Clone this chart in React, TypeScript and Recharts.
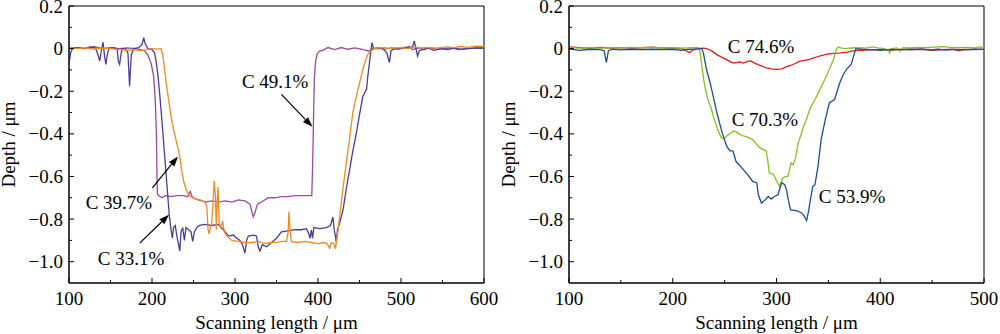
import {
  LineChart,
  Line,
  XAxis,
  YAxis,
  ReferenceArea,
  ReferenceLine,
  ReferenceDot,
  Label,
} from "recharts";

type Pt = [number, number];

const FONT = '"Liberation Serif", "Times New Roman", serif';

const leftXTicks = [100, 150, 200, 250, 300, 350, 400, 450, 500, 550, 600];
const rightXTicks = [100, 150, 200, 250, 300, 350, 400, 450, 500];
const yTicks = [-1.0, -0.9, -0.8, -0.7, -0.6, -0.5, -0.4, -0.3, -0.2, -0.1, 0, 0.1, 0.2];

// left panel
const c491: Pt[] = [
  [100, 0.003], [110, 0.005], [120, 0.0], [130, 0.01], [140, 0.0], [150, 0.005], [160, 0.0],
  [170, 0.003], [180, 0.0], [186, -0.005], [191, -0.01], [195, -0.03], [199, -0.07], [202, -0.13],
  [204, -0.25], [205.3, -0.4], [206, -0.6], [206.5, -0.68], [208, -0.69], [212, -0.7], [216, -0.69],
  [222, -0.695], [230, -0.69], [238, -0.69], [243, -0.695], [246, -0.67], [249, -0.7], [256, -0.71],
  [264, -0.72], [272, -0.715], [280, -0.72], [288, -0.715], [296, -0.72], [304, -0.71], [312, -0.715],
  [318, -0.73], [320, -0.76], [322, -0.79], [324, -0.77], [327, -0.73], [332, -0.72], [340, -0.7],
  [348, -0.7], [356, -0.695], [364, -0.695], [372, -0.69], [380, -0.69], [388, -0.69], [392.5, -0.69],
  [393.5, -0.55], [394.5, -0.35], [395.5, -0.15], [397, -0.06], [399, -0.025], [402, -0.01],
  [406, -0.008], [412, 0.005], [420, -0.005], [428, 0.005], [436, -0.003], [444, 0.003], [452, -0.002],
  [458, -0.008], [462, -0.012], [466, 0.0], [472, 0.005], [480, -0.002], [488, 0.003], [496, 0.0],
  [504, 0.005], [510, 0.01], [514, -0.005], [520, 0.003], [528, -0.004], [536, 0.005], [544, -0.003],
  [552, 0.0], [560, 0.003], [570, -0.005], [580, 0.0], [590, 0.003], [600, 0.002],
];

const c331: Pt[] = [
  [100, -0.07], [102, -0.02], [104, 0.0], [110, 0.005], [118, 0.0], [126, 0.008], [132, 0.003],
  [135, -0.03], [137, -0.058], [139, -0.01], [141, 0.03], [143, -0.04], [144.5, -0.074], [146, -0.03],
  [148, 0.0], [154, 0.005], [158, 0.0], [159.5, -0.06], [161, -0.074], [162.5, -0.03], [164, 0.0],
  [168, 0.0], [171, -0.02], [173, -0.176], [175, -0.03], [178, 0.0], [184, 0.005], [188, 0.02],
  [190, 0.052], [192, 0.02], [195, 0.0], [200, -0.005], [203, -0.02], [205, -0.06], [207, -0.12],
  [209, -0.2], [212, -0.34], [215, -0.49], [218, -0.64], [221, -0.79], [223, -0.85], [224.5, -0.89],
  [226, -0.84], [228, -0.83], [230, -0.88], [232, -0.92], [233.5, -0.95], [235, -0.86], [237, -0.84],
  [239, -0.9], [241, -0.84], [244, -0.85], [247, -0.86], [249, -0.905], [251, -0.86], [254, -0.84],
  [257, -0.83], [264, -0.825], [272, -0.83], [280, -0.825], [286, -0.85], [290, -0.87], [293, -0.88],
  [298, -0.875], [302, -0.89], [306, -0.9], [309, -0.92], [312, -0.96], [314, -0.9], [316, -0.88],
  [322, -0.875], [326, -0.88], [328, -0.93], [330, -0.95], [333, -0.92], [338, -0.93], [344, -0.91],
  [350, -0.89], [356, -0.86], [364, -0.855], [372, -0.85], [380, -0.85], [386, -0.845], [389, -0.87],
  [390.5, -0.89], [392, -0.85], [393.5, -0.89], [395, -0.84], [402, -0.845], [410, -0.84], [415, -0.83],
  [418, -0.79], [419.5, -0.85], [421, -0.88], [422, -0.91], [423.5, -0.85], [426, -0.82], [430, -0.76],
  [434, -0.66], [438, -0.57], [442, -0.48], [446, -0.4], [450, -0.31], [454, -0.225], [456, -0.21],
  [458.5, -0.19], [460, -0.13], [462, -0.066], [464, 0.0], [465, 0.028], [467, 0.0], [472, 0.0],
  [478, 0.0], [483, -0.02], [486, -0.066], [488, -0.01], [492, 0.0], [498, -0.002], [504, 0.005],
  [510, 0.003], [514, 0.01], [516, 0.036], [518, 0.0], [520, -0.035], [522, -0.01], [526, -0.005],
  [532, 0.003], [540, -0.008], [548, 0.0], [556, -0.005], [564, 0.002], [572, -0.002], [580, 0.0],
  [590, 0.002], [600, 0.003],
];

const c397: Pt[] = [
  [100, 0.005], [110, 0.0], [120, 0.003], [130, -0.003], [140, 0.002], [150, 0.0], [160, -0.005],
  [170, -0.008], [178, -0.005], [186, -0.01], [194, -0.005], [200, 0.0], [206, -0.002], [211, 0.0],
  [213, -0.03], [215, -0.09], [217, -0.16], [220, -0.24], [223, -0.32], [226, -0.38], [229, -0.43],
  [232, -0.48], [234, -0.52], [236, -0.58], [238, -0.62], [241, -0.66], [244, -0.685], [247, -0.695],
  [252, -0.705], [258, -0.71], [264, -0.72], [266, -0.74], [267.5, -0.85], [269, -0.87], [270.5, -0.83],
  [272, -0.82], [273.5, -0.72], [275, -0.62], [276.5, -0.7], [277.5, -0.85], [278.5, -0.72],
  [279.5, -0.65], [281, -0.82], [283, -0.84], [285, -0.81], [287, -0.86], [290, -0.88], [296, -0.9],
  [304, -0.905], [312, -0.91], [320, -0.91], [328, -0.905], [336, -0.915], [344, -0.91], [350, -0.91],
  [356, -0.905], [362, -0.905], [364, -0.86], [365, -0.765], [366.5, -0.86], [368, -0.905], [376, -0.91],
  [384, -0.905], [392, -0.91], [400, -0.915], [406, -0.91], [411, -0.915], [414, -0.937], [416, -0.91],
  [419, -0.915], [421, -0.94], [422.5, -0.9], [424, -0.86], [426, -0.79], [430, -0.66], [434, -0.54],
  [438, -0.42], [442, -0.3], [447, -0.21], [452, -0.13], [456, -0.07], [460, -0.027], [464, -0.01],
  [468, 0.0], [474, 0.003], [480, 0.005], [486, 0.0], [492, 0.003], [500, 0.005], [508, 0.0],
  [516, 0.008], [524, 0.003], [532, 0.006], [540, 0.002], [548, 0.005], [556, 0.008], [564, 0.005],
  [572, 0.01], [580, 0.006], [590, 0.012], [600, 0.01],
];

// right panel
const c746: Pt[] = [
  [100, 0.008], [110, 0.005], [120, 0.002], [130, 0.006], [140, 0.003], [150, 0.005], [160, 0.002],
  [170, 0.004], [180, 0.007], [190, 0.003], [200, 0.004], [208, 0.0], [213, -0.01], [216, -0.019],
  [219, -0.008], [224, 0.0], [230, 0.002], [234, -0.002], [238, -0.012], [242, -0.027], [247, -0.04],
  [252, -0.052], [256, -0.063], [259, -0.068], [262, -0.065], [265, -0.062], [268, -0.068], [272, -0.06],
  [275, -0.058], [278, -0.066], [282, -0.075], [286, -0.082], [290, -0.09], [295, -0.095], [300, -0.097],
  [305, -0.095], [310, -0.085], [314, -0.078], [318, -0.07], [322, -0.06], [327, -0.055], [332, -0.05],
  [336, -0.043], [340, -0.037], [345, -0.03], [350, -0.025], [356, -0.022], [362, -0.02], [368, -0.016],
  [374, -0.011], [380, -0.008], [390, -0.006], [400, -0.004], [410, -0.008], [420, -0.002], [430, -0.006],
  [440, -0.003], [450, -0.008], [460, -0.005], [470, -0.002], [476, -0.01], [480, -0.004], [490, -0.005],
  [500, -0.003],
];

const c703: Pt[] = [
  [100, 0.006], [110, 0.002], [120, 0.004], [130, 0.002], [140, 0.005], [150, 0.003], [160, 0.006],
  [170, 0.004], [180, 0.006], [190, 0.003], [200, 0.004], [210, 0.002], [218, 0.004], [225, 0.005],
  [226.5, -0.02], [228, -0.08], [230, -0.15], [231.5, -0.19], [234, -0.24], [237, -0.28], [239, -0.317],
  [242, -0.36], [244, -0.388], [247, -0.42], [250, -0.42], [252, -0.41], [255, -0.4], [258, -0.388],
  [261, -0.39], [264, -0.4], [268, -0.41], [272, -0.415], [277, -0.427], [281, -0.45], [284, -0.466],
  [288, -0.475], [290, -0.48], [291.5, -0.52], [293, -0.584], [297, -0.59], [300, -0.62], [303, -0.647],
  [306, -0.607], [309, -0.6], [311, -0.6], [313, -0.56], [314, -0.537], [316, -0.545], [318, -0.52],
  [320, -0.47], [321, -0.44], [324, -0.4], [326, -0.364], [329, -0.33], [332, -0.286], [337, -0.24],
  [342, -0.19], [346, -0.15], [351, -0.097], [355, -0.05], [358, 0.0], [359.5, 0.008], [362, 0.003],
  [366, 0.0], [372, 0.003], [380, 0.005], [386, 0.002], [392, 0.008], [398, 0.003], [404, 0.0],
  [408, -0.008], [409, -0.02], [411, 0.0], [416, 0.003], [419, -0.012], [422, 0.004], [428, 0.003],
  [436, 0.006], [444, 0.004], [452, 0.007], [460, 0.009], [468, 0.006], [476, 0.004], [484, 0.006],
  [492, 0.003], [496, 0.008], [500, 0.004],
];

const c539: Pt[] = [
  [100, -0.002], [105, -0.005], [110, -0.008], [120, -0.003], [130, -0.005], [134, -0.01], [136, -0.066],
  [138, -0.01], [142, -0.003], [150, -0.006], [160, -0.003], [170, -0.005], [180, -0.003], [190, -0.005],
  [200, -0.003], [208, -0.008], [215, -0.004], [222, -0.002], [228, 0.0], [229.5, -0.02], [232.5, -0.097],
  [236, -0.16], [239, -0.223], [242, -0.29], [245, -0.348], [248, -0.4], [252, -0.458], [255, -0.48],
  [258, -0.48], [261, -0.53], [264, -0.545], [268, -0.568], [272, -0.59], [277, -0.623], [281, -0.63],
  [282.5, -0.686], [285.5, -0.725], [289, -0.71], [292, -0.694], [295, -0.706], [298, -0.694],
  [301.5, -0.686], [303, -0.66], [305, -0.63], [308, -0.639], [310, -0.67], [311, -0.7], [313.5, -0.757],
  [319, -0.76], [324, -0.77], [327, -0.788], [329, -0.807], [331, -0.76], [333, -0.7], [335, -0.647],
  [337, -0.64], [340, -0.553], [343, -0.427], [347, -0.333], [351, -0.254], [356, -0.239], [361, -0.16],
  [364, -0.125], [367.5, -0.097], [372, -0.074], [374, -0.04], [376.5, 0.0], [382, -0.003], [390, -0.005],
  [400, -0.008], [410, -0.004], [420, -0.006], [430, -0.003], [440, -0.002], [448, -0.006], [456, -0.003],
  [464, -0.007], [472, -0.004], [480, -0.006], [490, -0.003], [500, -0.004],
];

const toPts = (a: Pt[]) => a.map(([x, y]) => ({ x, y }));

function fmtY(v: number) {
  if (Math.abs(v) < 1e-9) return "0";
  return v < 0 ? "\u2212" + Math.abs(v).toFixed(1) : v.toFixed(1);
}

function XTick(props: any) {
  const { x, y, payload } = props;
  const major = payload.value % 100 === 0;
  return (
    <g>
      <line x1={x} y1={y} x2={x} y2={y - (major ? 5 : 3)} stroke="#000" />
      {major && (
        <text x={x} y={y + 22} textAnchor="middle" fontFamily={FONT} fontSize={19} fill="#000">
          {payload.value}
        </text>
      )}
    </g>
  );
}

function YTick(props: any) {
  const { x, y, payload } = props;
  const major = Math.round(payload.value * 10) % 2 === 0;
  return (
    <g>
      <line x1={x} y1={y} x2={x + (major ? 5 : 3)} y2={y} stroke="#000" />
      {major && (
        <text x={x - 6} y={y + 6.5} textAnchor="end" fontFamily={FONT} fontSize={19} fill="#000">
          {fmtY(payload.value)}
        </text>
      )}
    </g>
  );
}

function Arrow(props: any) {
  const { x1, y1, x2, y2 } = props;
  const dx = x2 - x1;
  const dy = y2 - y1;
  const len = Math.sqrt(dx * dx + dy * dy) || 1;
  const ux = dx / len;
  const uy = dy / len;
  const bx = x2 - ux * 10;
  const by = y2 - uy * 10;
  const pts = `${x2},${y2} ${bx - uy * 3.5},${by + ux * 3.5} ${bx + uy * 3.5},${by - ux * 3.5}`;
  return (
    <g>
      <line x1={x1} y1={y1} x2={bx} y2={by} stroke="#000" strokeWidth={1.2} />
      <polygon points={pts} fill="#000" />
    </g>
  );
}

interface Series {
  name: string;
  color: string;
  data: Pt[];
}

interface Note {
  text: string;
  x: number;
  y: number;
}

interface PanelProps {
  xMax: number;
  xTicks: number[];
  series: Series[];
  notes: Note[];
  arrows: [number, number, number, number][];
}

function Panel({ xMax, xTicks, series, notes, arrows }: PanelProps) {
  return (
    <LineChart width={500} height={334} margin={{ top: 6, right: 16, left: 0, bottom: 0 }}>
      <XAxis
        type="number"
        dataKey="x"
        domain={[100, xMax]}
        ticks={xTicks}
        interval={0}
        tickSize={0}
        tickMargin={0}
        tick={<XTick />}
        axisLine={{ stroke: "#000" }}
        height={51}
        allowDataOverflow
      >
        <Label
          content={({ viewBox }: any) => (
            <text
              x={viewBox.x + viewBox.width / 2}
              y={viewBox.y + 45.5}
              textAnchor="middle"
              fontFamily={FONT}
              fontSize={19}
              fill="#000"
            >
              Scanning length / μm
            </text>
          )}
        />
      </XAxis>
      <YAxis
        type="number"
        domain={[-1.1, 0.2]}
        ticks={yTicks}
        interval={0}
        tickSize={0}
        tickMargin={0}
        tick={<YTick />}
        axisLine={{ stroke: "#000" }}
        width={69}
        allowDataOverflow
      >
        <Label
          content={({ viewBox }: any) => {
            const cx = viewBox.x + 14.5;
            const cy = viewBox.y + viewBox.height / 2;
            return (
              <text
                x={cx}
                y={cy}
                transform={`rotate(-90 ${cx} ${cy})`}
                textAnchor="middle"
                fontFamily={FONT}
                fontSize={19}
                fill="#000"
              >
                Depth / μm
              </text>
            );
          }}
        />
      </YAxis>
      <ReferenceArea x1={100} x2={xMax} y1={-1.1} y2={0.2} fill="none" stroke="#000" strokeWidth={1} />
      {series.map((s) => (
        <Line
          key={s.name}
          name={s.name}
          data={toPts(s.data)}
          dataKey="y"
          type="linear"
          stroke={s.color}
          strokeWidth={1.3}
          dot={false}
          isAnimationActive={false}
        />
      ))}
      {arrows.map(([ax, ay, bx, by], i) => (
        <ReferenceLine
          key={`arrow-${i}`}
          segment={[
            { x: ax, y: ay },
            { x: bx, y: by },
          ]}
          shape={<Arrow />}
        />
      ))}
      {notes.map((n) => (
        <ReferenceDot
          key={n.text}
          x={n.x}
          y={n.y}
          r={0}
          shape={(p: any) => (
            <text x={p.cx} y={p.cy} fontFamily={FONT} fontSize={19} fill="#000">
              {n.text}
            </text>
          )}
        />
      ))}
    </LineChart>
  );
}

const leftSeries: Series[] = [
  { name: "C 49.1%", color: "#9b4a9e", data: c491 },
  { name: "C 33.1%", color: "#4b3c9c", data: c331 },
  { name: "C 39.7%", color: "#f28a1e", data: c397 },
];

const rightSeries: Series[] = [
  { name: "C 74.6%", color: "#e31a1c", data: c746 },
  { name: "C 70.3%", color: "#86c21e", data: c703 },
  { name: "C 53.9%", color: "#1f4aa0", data: c539 },
];

const leftNotes: Note[] = [
  { text: "C 49.1%", x: 308.3, y: -0.187 },
  { text: "C 39.7%", x: 120.1, y: -0.752 },
  { text: "C 33.1%", x: 134.6, y: -1.016 },
];

const rightNotes: Note[] = [
  { text: "C 74.6%", x: 253, y: -0.022 },
  { text: "C 70.3%", x: 256.8, y: -0.361 },
  { text: "C 53.9%", x: 340.7, y: -0.724 },
];

const leftArrows: [number, number, number, number][] = [
  [355.9, -0.215, 393.3, -0.367],
  [200.5, -0.654, 231.3, -0.506],
  [185.2, -0.913, 220.5, -0.78],
];

export default function App() {
  return (
    <div
      style={{
        position: "absolute",
        left: 0,
        top: 0,
        width: 1000,
        height: 334,
        display: "flex",
        background: "#fff",
      }}
    >
      <Panel xMax={600} xTicks={leftXTicks} series={leftSeries} notes={leftNotes} arrows={leftArrows} />
      <Panel xMax={500} xTicks={rightXTicks} series={rightSeries} notes={rightNotes} arrows={[]} />
    </div>
  );
}
